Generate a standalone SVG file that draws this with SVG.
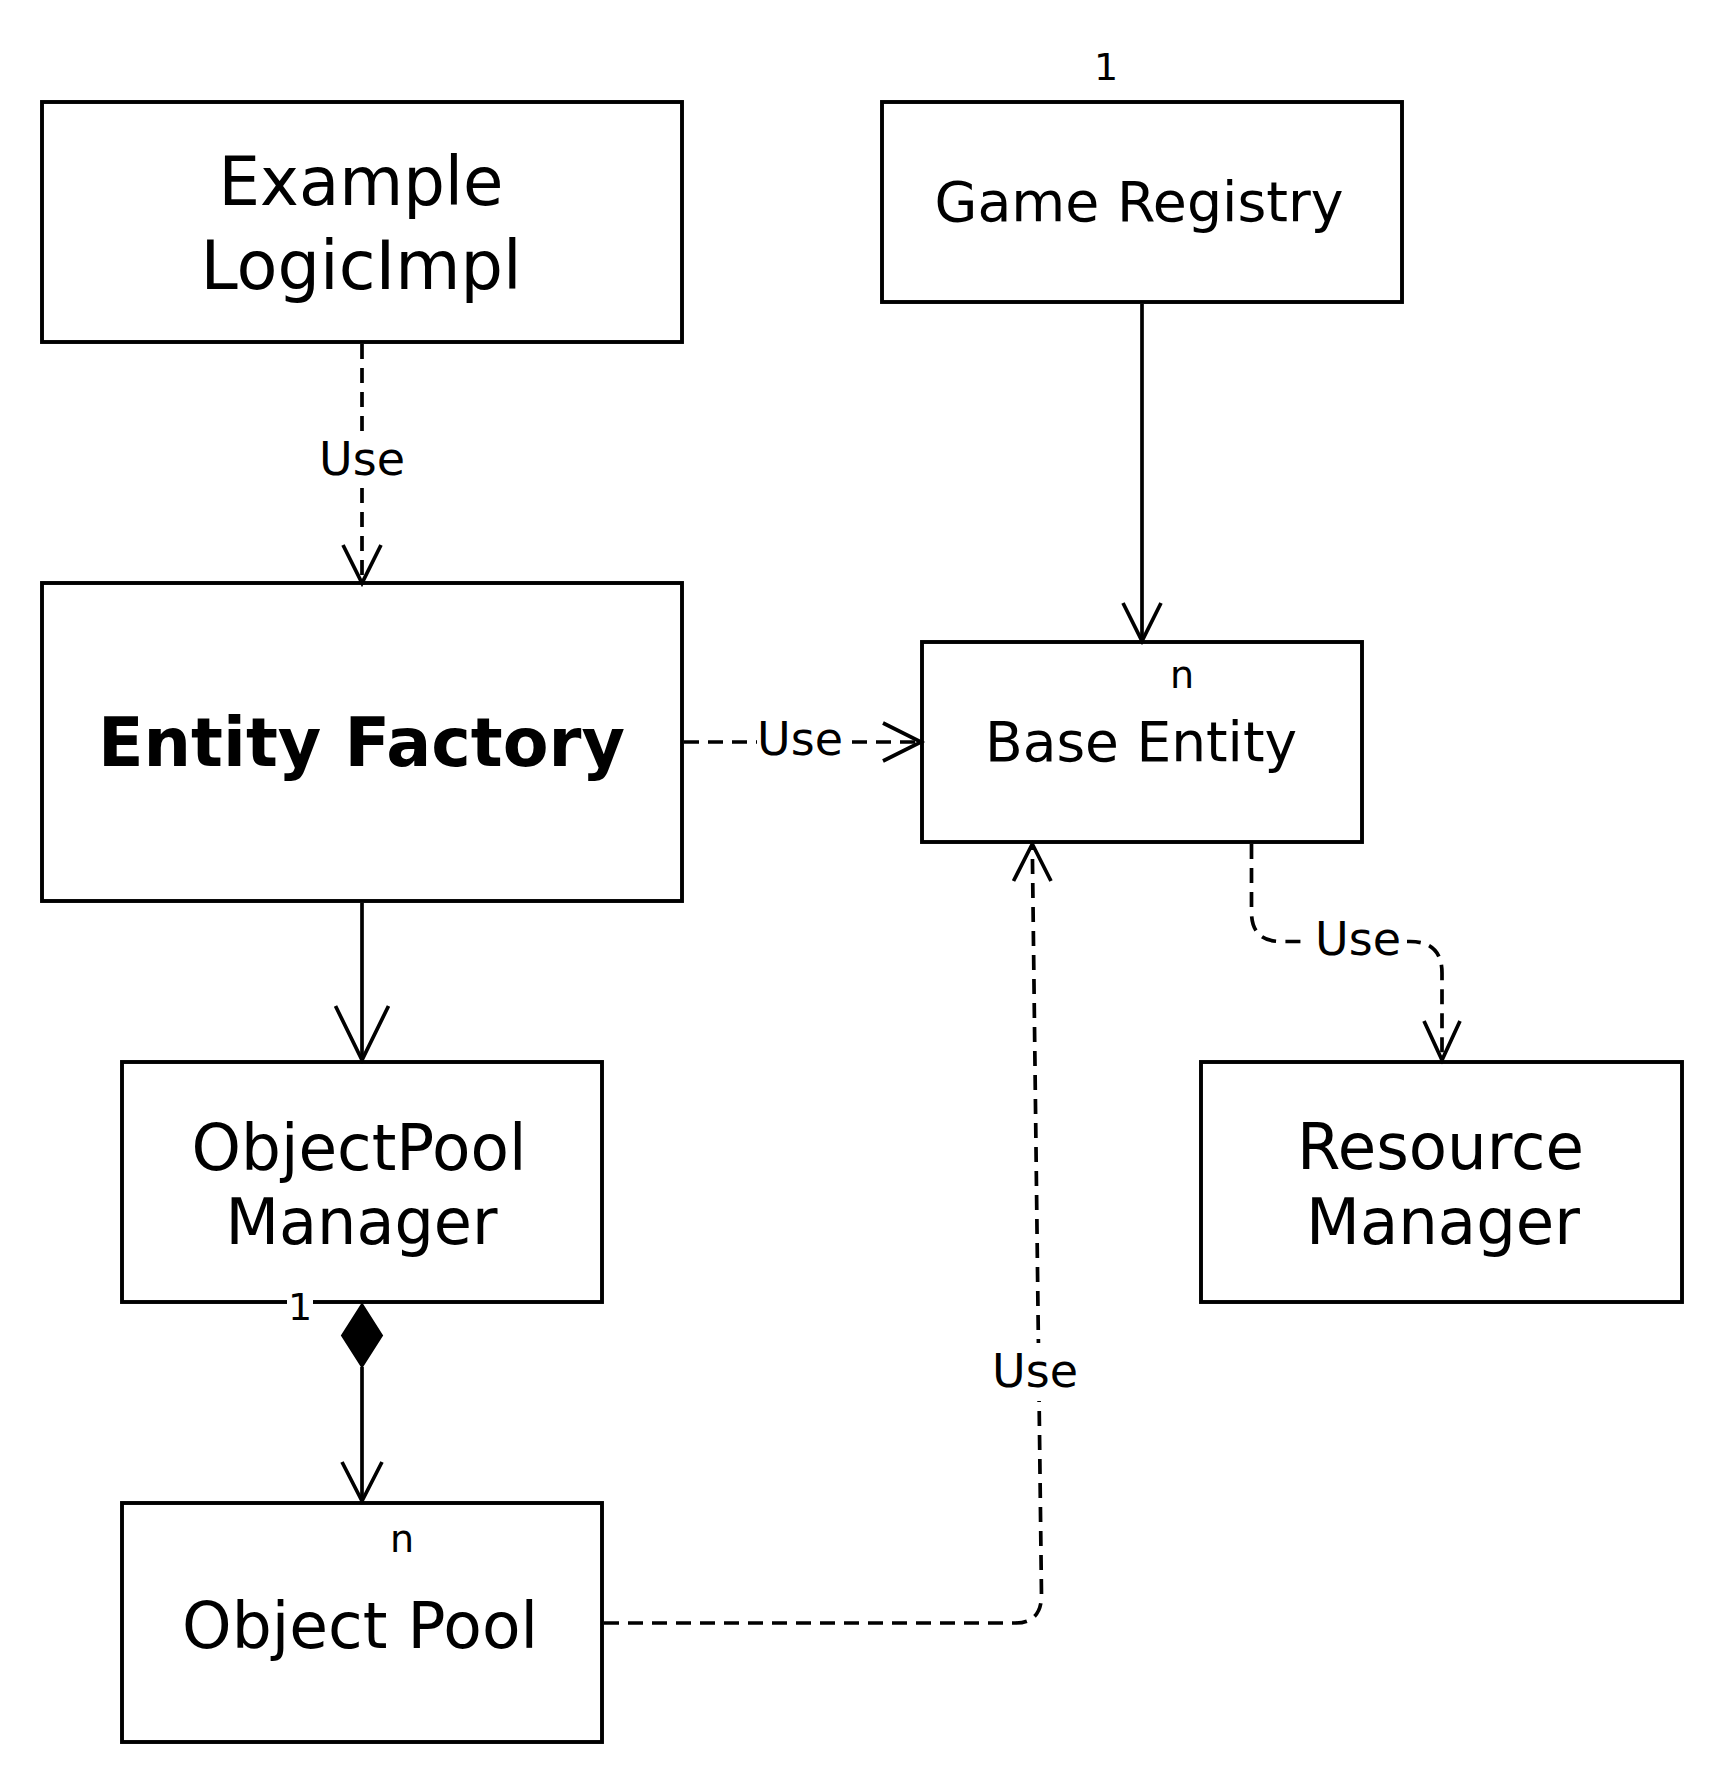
<svg xmlns="http://www.w3.org/2000/svg" width="1724" height="1770" viewBox="0 0 1724 1770">
<style>
.box{fill:#fff;stroke:#000;stroke-width:3.9}
.t{font-family:"DejaVu Sans",Verdana,sans-serif;fill:#000;text-anchor:middle}
.lbl{font-size:46px}
.small{font-size:38px}
.line{fill:none;stroke:#000;stroke-width:3.7}
.dash{stroke-dasharray:15 9}
.head{fill:none;stroke:#000;stroke-width:3.7;stroke-linejoin:miter}
.bg{fill:#fff;stroke:none}
</style>
<rect width="1724" height="1770" fill="#fff"/>
<g id="node-example">
  <rect class="box" x="42" y="102" width="640" height="240"/>
  <text class="t" font-size="68" x="361" y="205" textLength="285" lengthAdjust="spacingAndGlyphs">Example</text>
  <text class="t" font-size="68" x="361" y="289" textLength="321" lengthAdjust="spacingAndGlyphs">LogicImpl</text>
</g>
<g id="node-registry">
  <rect class="box" x="882" y="102" width="520" height="200"/>
  <text class="t" font-size="55" x="1139" y="221" textLength="409" lengthAdjust="spacingAndGlyphs">Game Registry</text>
  <text class="t small" x="1106" y="80">1</text>
</g>
<g id="node-factory">
  <rect class="box" x="42" y="583" width="640" height="318"/>
  <text class="t" font-size="68" font-weight="bold" x="361.5" y="766" textLength="527" lengthAdjust="spacingAndGlyphs">Entity Factory</text>
</g>
<g id="node-base">
  <rect class="box" x="922" y="642" width="440" height="200"/>
  <text class="t" font-size="56" x="1141" y="760.5" textLength="312" lengthAdjust="spacingAndGlyphs">Base Entity</text>
  <text class="t small" x="1182" y="688">n</text>
</g>
<g id="node-poolmgr">
  <rect class="box" x="122" y="1062" width="480" height="240"/>
  <text class="t" font-size="64" x="359" y="1169.5" textLength="335" lengthAdjust="spacingAndGlyphs">ObjectPool</text>
  <text class="t" font-size="64" x="361.5" y="1244" textLength="272" lengthAdjust="spacingAndGlyphs">Manager</text>
</g>
<g id="node-resource">
  <rect class="box" x="1201" y="1062" width="481" height="240"/>
  <text class="t" font-size="64" x="1440.5" y="1168.5" textLength="287" lengthAdjust="spacingAndGlyphs">Resource</text>
  <text class="t" font-size="64" x="1443" y="1244" textLength="274" lengthAdjust="spacingAndGlyphs">Manager</text>
</g>
<g id="node-pool">
  <rect class="box" x="122" y="1503" width="480" height="239"/>
  <text class="t" font-size="64" x="360" y="1648" textLength="356" lengthAdjust="spacingAndGlyphs">Object Pool</text>
  <text class="t small" x="402" y="1552">n</text>
</g>
<g id="connectors">
  <g id="e-example-factory">
    <path class="line dash" d="M362 344 L362 581"/>
    <path class="head" d="M343 545 L362 583 L381 545"/>
    <rect class="bg" x="318" y="431" width="88" height="56"/>
    <text class="t lbl" x="362" y="475">Use</text>
  </g>
  <g id="e-registry-base">
    <path class="line" d="M1142 304 L1142 639"/>
    <path class="head" d="M1123 603 L1142 641 L1161 603"/>
  </g>
  <g id="e-factory-base">
    <path class="line dash" d="M684 742 L920 742"/>
    <path class="head" d="M883 723 L921 742 L883 761"/>
    <rect class="bg" x="757" y="712" width="87" height="56"/>
    <text class="t lbl" x="800" y="755">Use</text>
  </g>
  <g id="e-factory-poolmgr">
    <path class="line" d="M362 903 L362 1059"/>
    <path class="head" d="M335.5 1006 L362 1060 L388.5 1006"/>
  </g>
  <g id="e-poolmgr-pool">
    <path d="M362 1304 L382 1335.5 L362 1367 L342 1335.5 Z" fill="#000" stroke="#000" stroke-width="2"/>
    <path class="line" d="M362 1367 L362 1500"/>
    <path class="head" d="M342 1462 L362 1501 L382 1462"/>
    <rect class="bg" x="287" y="1289" width="26" height="33"/>
    <text class="t small" x="300" y="1320">1</text>
  </g>
  <g id="e-base-resource">
    <path class="line dash" d="M1251.5 844 L1251.5 912 Q1251.5 941.5 1281 941.5 L1410 941.5 Q1442 941.5 1442 973 L1442 1059"/>
    <path class="head" d="M1424 1021 L1442 1060 L1460 1021"/>
    <rect class="bg" x="1303" y="911" width="104" height="56"/>
    <text class="t lbl" x="1358" y="955">Use</text>
  </g>
  <g id="e-pool-base">
    <path class="line dash" d="M604 1623 L1015 1623 Q1041.5 1623 1041.5 1595 L1032.3 846"/>
    <path class="head" d="M1013.5 881 L1032.3 844 L1051 881"/>
    <rect class="bg" x="991" y="1343" width="88" height="58"/>
    <text class="t lbl" x="1035" y="1387">Use</text>
  </g>
</g>
</svg>
